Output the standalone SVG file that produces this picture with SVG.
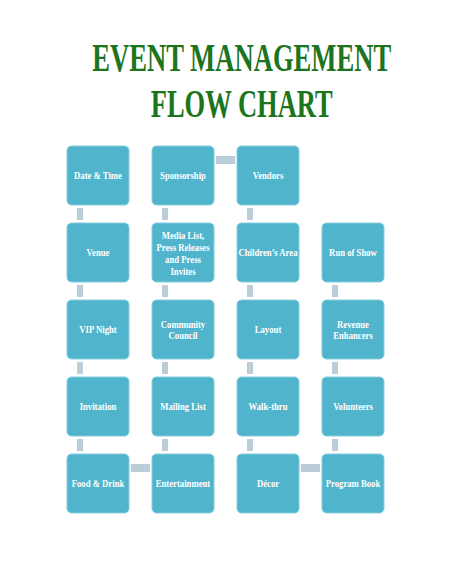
<svg xmlns="http://www.w3.org/2000/svg" width="474" height="576" viewBox="0 0 474 576">
<style>
.bg{fill:#ffffff}
.title{font-family:"Liberation Serif","Times New Roman",serif;font-weight:bold;font-size:39px;fill:#1c741c;text-anchor:middle}
.box{fill:#50b4cc;stroke:#86cddd;stroke-width:1}
.lbl{font-family:"Liberation Serif","Times New Roman",serif;font-weight:bold;font-size:11px;fill:#ffffff;text-anchor:middle}
.con{fill:#bacdd8}
</style>
<rect class="bg" x="0" y="0" width="474" height="576"/>
<g id="title">
<text class="title" transform="translate(241.7 70.7) scale(0.683 1)">EVENT MANAGEMENT</text>
<text class="title" transform="translate(241.7 117.3) scale(0.68 1)">FLOW CHART</text>
</g>
<g id="connectors">
<rect class="con" x="77" y="208" width="6" height="12"/>
<rect class="con" x="77" y="285" width="6" height="12"/>
<rect class="con" x="77" y="362" width="6" height="12"/>
<rect class="con" x="77" y="439" width="6" height="12"/>
<rect class="con" x="162" y="208" width="6" height="12"/>
<rect class="con" x="162" y="285" width="6" height="12"/>
<rect class="con" x="162" y="362" width="6" height="12"/>
<rect class="con" x="162" y="439" width="6" height="12"/>
<rect class="con" x="247" y="208" width="6" height="12"/>
<rect class="con" x="247" y="285" width="6" height="12"/>
<rect class="con" x="247" y="362" width="6" height="12"/>
<rect class="con" x="247" y="439" width="6" height="12"/>
<rect class="con" x="332" y="285" width="6" height="12"/>
<rect class="con" x="332" y="362" width="6" height="12"/>
<rect class="con" x="332" y="439" width="6" height="12"/>
<rect class="con" x="216" y="156" width="19" height="8"/>
<rect class="con" x="131" y="464" width="19" height="8"/>
<rect class="con" x="301" y="464" width="19" height="8"/>
</g>
<g id="date-time"><rect class="box" x="67" y="146" width="62" height="59" rx="4.5"/><text class="lbl" transform="translate(98 179.3) scale(0.79 1)">Date &amp; Time</text></g>
<g id="sponsorship"><rect class="box" x="152" y="146" width="62" height="59" rx="4.5"/><text class="lbl" transform="translate(183 179.3) scale(0.79 1)">Sponsorship</text></g>
<g id="vendors"><rect class="box" x="237" y="146" width="62" height="59" rx="4.5"/><text class="lbl" transform="translate(268 179.3) scale(0.79 1)">Vendors</text></g>
<g id="venue"><rect class="box" x="67" y="223" width="62" height="59" rx="4.5"/><text class="lbl" transform="translate(98 256.3) scale(0.79 1)">Venue</text></g>
<g id="media-list"><rect class="box" x="152" y="223" width="62" height="59" rx="4.5"/><text class="lbl" transform="translate(183 238.5) scale(0.79 1)"><tspan x="0" y="0">Media List,</tspan><tspan x="0" y="12.3">Press Releases</tspan><tspan x="0" y="24.6">and Press</tspan><tspan x="0" y="36.9">Invites</tspan></text></g>
<g id="childrens-area"><rect class="box" x="237" y="223" width="62" height="59" rx="4.5"/><text class="lbl" transform="translate(268 256.3) scale(0.79 1)">Children’s Area</text></g>
<g id="run-of-show"><rect class="box" x="322" y="223" width="62" height="59" rx="4.5"/><text class="lbl" transform="translate(353 256.3) scale(0.79 1)">Run of Show</text></g>
<g id="vip-night"><rect class="box" x="67" y="300" width="62" height="59" rx="4.5"/><text class="lbl" transform="translate(98 333.3) scale(0.79 1)">VIP Night</text></g>
<g id="community-council"><rect class="box" x="152" y="300" width="62" height="59" rx="4.5"/><text class="lbl" transform="translate(183 327.6) scale(0.79 1)"><tspan x="0" y="0">Community</tspan><tspan x="0" y="11.5">Council</tspan></text></g>
<g id="layout"><rect class="box" x="237" y="300" width="62" height="59" rx="4.5"/><text class="lbl" transform="translate(268 333.3) scale(0.79 1)">Layout</text></g>
<g id="revenue-enhancers"><rect class="box" x="322" y="300" width="62" height="59" rx="4.5"/><text class="lbl" transform="translate(353 327.6) scale(0.79 1)"><tspan x="0" y="0">Revenue</tspan><tspan x="0" y="11.5">Enhancers</tspan></text></g>
<g id="invitation"><rect class="box" x="67" y="377" width="62" height="59" rx="4.5"/><text class="lbl" transform="translate(98 410.3) scale(0.79 1)">Invitation</text></g>
<g id="mailing-list"><rect class="box" x="152" y="377" width="62" height="59" rx="4.5"/><text class="lbl" transform="translate(183 410.3) scale(0.79 1)">Mailing List</text></g>
<g id="walk-thru"><rect class="box" x="237" y="377" width="62" height="59" rx="4.5"/><text class="lbl" transform="translate(268 410.3) scale(0.79 1)">Walk-thru</text></g>
<g id="volunteers"><rect class="box" x="322" y="377" width="62" height="59" rx="4.5"/><text class="lbl" transform="translate(353 410.3) scale(0.79 1)">Volunteers</text></g>
<g id="food-drink"><rect class="box" x="67" y="454" width="62" height="59" rx="4.5"/><text class="lbl" transform="translate(98 487.3) scale(0.79 1)">Food &amp; Drink</text></g>
<g id="entertainment"><rect class="box" x="152" y="454" width="62" height="59" rx="4.5"/><text class="lbl" transform="translate(183 487.3) scale(0.79 1)">Entertainment</text></g>
<g id="decor"><rect class="box" x="237" y="454" width="62" height="59" rx="4.5"/><text class="lbl" transform="translate(268 487.3) scale(0.79 1)">Décor</text></g>
<g id="program-book"><rect class="box" x="322" y="454" width="62" height="59" rx="4.5"/><text class="lbl" transform="translate(353 487.3) scale(0.79 1)">Program Book</text></g>
</svg>
